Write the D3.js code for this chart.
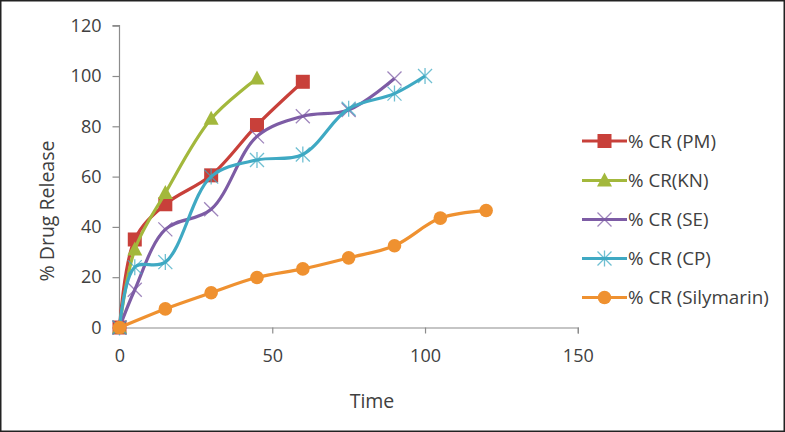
<!DOCTYPE html>
<html><head><meta charset="utf-8">
<script src="https://cdn.jsdelivr.net/npm/d3@7"></script>
<style>body{margin:0;background:#fff}svg{display:block}</style>
</head><body>
<svg id="c" width="785" height="432"></svg>
<script>
const seriesNames = ["% CR (PM)", "% CR(KN)", "% CR (SE)", "% CR (CP)", "% CR (Silymarin)"];
const timePM = [0, 5, 15, 30, 45, 60];
const valPM = [0, 35, 49, 60.5, 80.5, 97.7];
const timeKN = [0, 5, 15, 30, 45];
const valKN = [0, 31, 53.5, 83, 99];
const timeSE = [0, 5, 15, 30, 45, 60, 75, 90];
const valSE = [0, 15, 39, 47, 76, 84, 86.5, 99];
const timeCP = [0, 5, 15, 30, 45, 60, 75, 90, 100];
const valCP = [0, 24, 26, 60, 66.6, 68.8, 87, 93, 100];
const timeSil = [0, 15, 30, 45, 60, 75, 90, 105, 120];
const valSil = [0, 7.4, 13.8, 19.9, 23.3, 27.7, 32.5, 43.5, 46.5];
const xTicks = [0, 50, 100, 150];
const yTicks = [0, 20, 40, 60, 80, 100, 120];

const colors = ["#C8403A", "#A3B83C", "#7D5CA5", "#3FA9C3", "#EF9130"];
const markers = ["square", "triangle", "cross", "star", "circle"];
const times = [timePM, timeKN, timeSE, timeCP, timeSil];
const vals = [valPM, valKN, valSE, valCP, valSil];

const svg = d3.select("#c");
const font = "'Open Sans', sans-serif";
const x = d3.scaleLinear().domain([0, 150]).range([119.5, 577.8]);
const y = d3.scaleLinear().domain([0, 120]).range([327.5, 25.7]);

// axes
const ax = svg.append("g").attr("transform", `translate(0,${y(0)})`)
  .call(d3.axisBottom(x).tickValues(xTicks).tickSize(6).tickPadding(16));
const ay = svg.append("g").attr("transform", `translate(${x(0)},0)`)
  .call(d3.axisLeft(y).tickValues(yTicks).tickSize(7).tickPadding(11));
[ax, ay].forEach(g => {
  g.select(".domain").attr("stroke", "#8c8c8c").attr("stroke-width", 1.2);
  g.selectAll(".tick line").attr("stroke", "#8c8c8c").attr("stroke-width", 1.2);
  g.selectAll(".tick text").attr("fill", "#404040").style("font-family", font).style("font-size", "18px");
});
ay.select(".domain").attr("d", `M-7,${y(120)}H0V${y(0)}`);

svg.append("text").text("Time").attr("x", 372).attr("y", 408)
  .attr("text-anchor", "middle").attr("fill", "#404040")
  .style("font-family", font).style("font-size", "19.5px");
svg.append("text").text("% Drug Release")
  .attr("transform", "translate(54,211) rotate(-90)")
  .attr("text-anchor", "middle").attr("fill", "#404040")
  .style("font-family", font).style("font-size", "19.5px");

function drawMarker(g, type, cx, cy, color) {
  if (type === "square") {
    g.append("rect").attr("x", cx - 7).attr("y", cy - 7).attr("width", 14).attr("height", 14).attr("fill", color);
  } else if (type === "triangle") {
    g.append("path").attr("d", `M${cx},${cy - 8}L${cx + 7.5},${cy + 6}L${cx - 7.5},${cy + 6}Z`).attr("fill", color);
  } else if (type === "circle") {
    g.append("circle").attr("cx", cx).attr("cy", cy).attr("r", 6.8).attr("fill", color);
  } else if (type === "cross") {
    g.append("path").attr("d", `M${cx - 7},${cy - 7}L${cx + 7},${cy + 7}M${cx - 7},${cy + 7}L${cx + 7},${cy - 7}`)
      .attr("stroke", color).attr("stroke-width", 1.3).attr("stroke-opacity", 0.75);
  } else if (type === "star") {
    g.append("path").attr("d", `M${cx - 7},${cy - 7}L${cx + 7},${cy + 7}M${cx - 7},${cy + 7}L${cx + 7},${cy - 7}M${cx},${cy - 8}L${cx},${cy + 8}`)
      .attr("stroke", color).attr("stroke-width", 1.3).attr("stroke-opacity", 0.75);
  }
}

const line = d3.line().x(d => x(d[0])).y(d => y(d[1])).curve(d3.curveCatmullRom.alpha(0.5));
seriesNames.forEach((name, i) => {
  const data = times[i].map((t, j) => [t, vals[i][j]]);
  const g = svg.append("g");
  g.append("path").datum(data).attr("d", line).attr("fill", "none")
    .attr("stroke", colors[i]).attr("stroke-width", 3.2).attr("stroke-linejoin", "round");
  data.forEach(d => drawMarker(g, markers[i], x(d[0]), y(d[1]), colors[i]));
});

// legend
const legY = [141, 180.5, 219.5, 258.5, 297.5];
seriesNames.forEach((name, i) => {
  const g = svg.append("g");
  g.append("line").attr("x1", 582).attr("x2", 627).attr("y1", legY[i]).attr("y2", legY[i])
    .attr("stroke", colors[i]).attr("stroke-width", 3.2);
  drawMarker(g, markers[i], 604.5, legY[i], colors[i]);
  g.append("text").text(name).attr("x", 628).attr("y", legY[i] + 6.5)
    .attr("fill", "#404040").style("font-family", font).style("font-size", "18.8px");
});

svg.append("rect").attr("x", 0).attr("y", 0).attr("width", 785).attr("height", 432)
  .attr("fill", "none").attr("stroke", "#222").attr("stroke-width", 3);
</script>
</body></html>
